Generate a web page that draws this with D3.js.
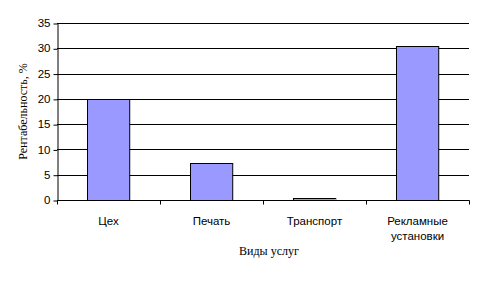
<!DOCTYPE html>
<html><head><meta charset="utf-8">
<script src="https://d3js.org/d3.v7.min.js"></script>
<style>body{margin:0;background:#fff}svg{display:block}</style>
</head><body>
<script>
const categories = [["Цех"], ["Печать"], ["Транспорт"], ["Рекламные", "установки"]];
const values = [20, 7.3, 0.4, 30.4];
const yTicks = [0, 5, 10, 15, 20, 25, 30, 35];
const xTitle = "Виды услуг";
const yTitle = "Рентабельность, %";

const W = 481, H = 283;
const m = {left: 57, right: 12, top: 23, bottom: 83};
const sans = "Tahoma, 'Liberation Sans', Arial, sans-serif";
const serif = "'Times New Roman', 'Liberation Serif', serif";
const svg = d3.select("body").append("svg").attr("width", W).attr("height", H);
const x = d3.scaleBand().domain(categories.map((d, i) => i)).range([m.left, W - m.right]).paddingInner(0.59).paddingOuter(0.295);
const xTickScale = d3.scaleLinear().domain([0, categories.length]).range([m.left, W - m.right]);
const y = d3.scaleLinear().domain([0, 35]).range([H - m.bottom, m.top]);

// grid
svg.append("g").selectAll("line").data(yTicks.filter(d => d > 0)).join("line")
  .attr("x1", m.left).attr("x2", W - m.right)
  .attr("y1", d => Math.round(y(d)) + 0.5).attr("y2", d => Math.round(y(d)) + 0.5)
  .attr("stroke", "#000").attr("stroke-width", 1);

// bars
svg.append("g").selectAll("rect").data(values).join("rect")
  .attr("x", (d, i) => Math.round(x(i)) + 0.5)
  .attr("y", d => Math.round(y(d)) + 0.5)
  .attr("width", x.bandwidth())
  .attr("height", d => Math.round(y(0)) - Math.round(y(d)))
  .attr("fill", "#9999FF").attr("stroke", "#000").attr("stroke-width", 1);

// y axis
const ya = svg.append("g").attr("transform", `translate(${m.left + 0.5},0)`)
  .call(d3.axisLeft(y).tickValues(yTicks).tickSize(4).tickPadding(3).tickSizeOuter(0));
ya.selectAll("line").attr("transform", "translate(0,0.5)");
ya.select(".domain").attr("stroke", "#000");
ya.selectAll("text").attr("font-family", sans).attr("font-size", 11.5).attr("fill", "#000");

// x axis
const xa = svg.append("g").attr("transform", `translate(0,${Math.round(y(0)) + 0.5})`);
xa.append("line").attr("x1", m.left).attr("x2", W - m.right + 0.5).attr("stroke", "#000");
xa.selectAll(".tk").data(d3.range(categories.length + 1)).join("line").attr("class", "tk")
  .attr("x1", d => Math.round(xTickScale(d)) + 0.5).attr("x2", d => Math.round(xTickScale(d)) + 0.5)
  .attr("y1", 0).attr("y2", 4).attr("stroke", "#000");
const lbl = xa.selectAll(".lb").data(categories).join("text").attr("class", "lb")
  .attr("x", (d, i) => x(i) + x.bandwidth() / 2)
  .attr("text-anchor", "middle")
  .attr("font-family", sans).attr("font-size", 11.5).attr("fill", "#000");
lbl.selectAll("tspan").data(d => d).join("tspan")
  .attr("x", function() { return this.parentNode.getAttribute("x"); })
  .attr("y", (d, i) => 24 + i * 15)
  .text(d => d);

// titles
svg.append("text").attr("x", 269).attr("y", 255).attr("text-anchor", "middle")
  .attr("font-family", serif).attr("font-size", 12).text(xTitle);
svg.append("text").attr("transform", `translate(27,${(m.top + H - m.bottom) / 2}) rotate(-90)`)
  .attr("text-anchor", "middle")
  .attr("font-family", serif).attr("font-size", 12).text(yTitle);
</script>
</body></html>
